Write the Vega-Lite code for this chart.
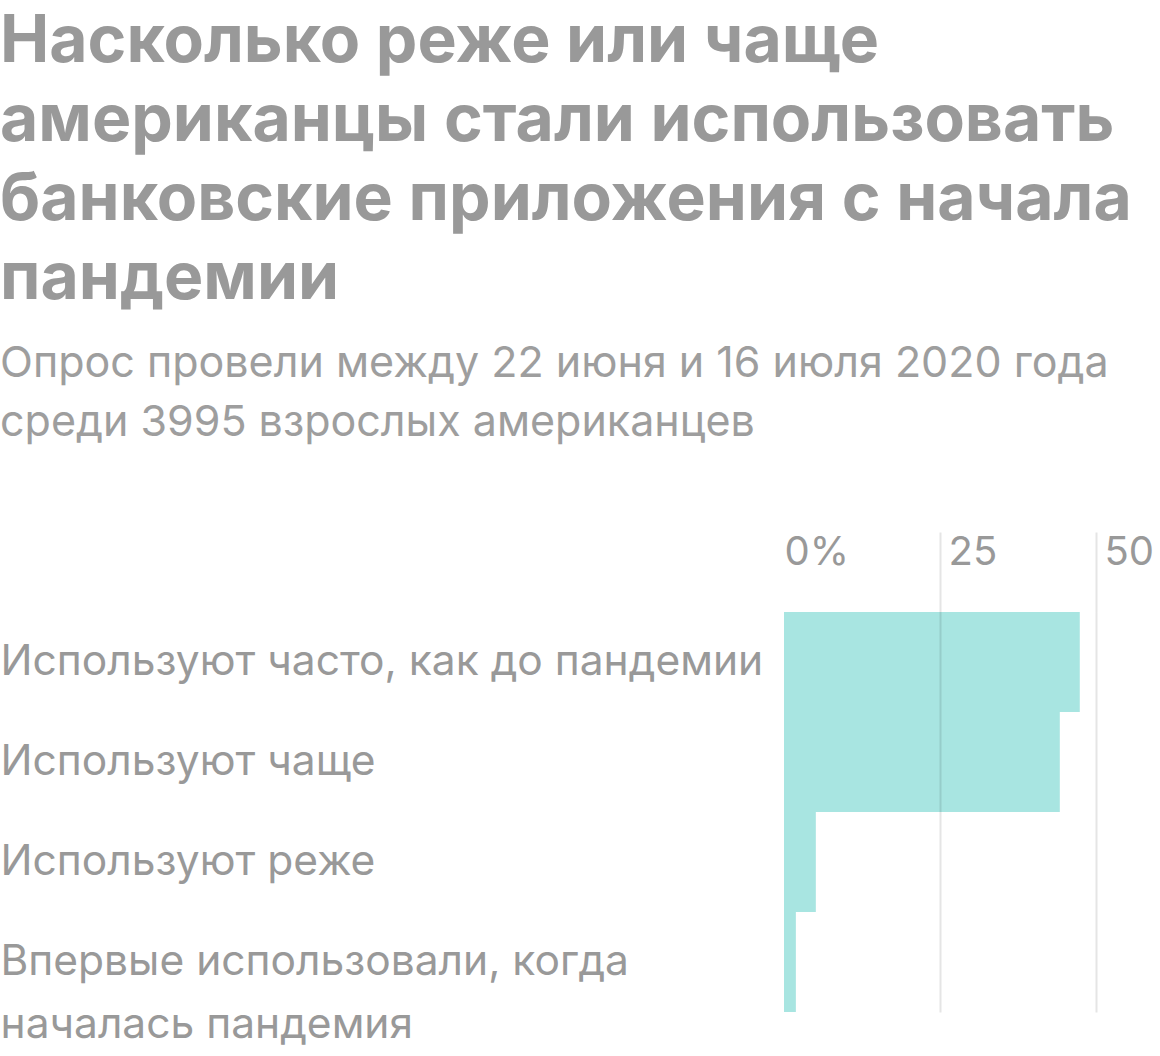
{
  "$schema": "https://vega.github.io/schema/vega-lite/v6.json",
  "description": "Как американцы стали использовать банковские приложения с начала пандемии",
  "width": 312,
  "height": 400,
  "padding": {"top": 9, "left": 0, "right": 0, "bottom": 0},
  "background": "white",
  "config": {"view": {"stroke": null}, "font": "Inter"},
  "title": {
    "text": ["Насколько реже или чаще", "американцы стали использовать", "банковские приложения с начала", "пандемии"],
    "subtitle": ["Опрос провели между 22 июня и 16 июля 2020 года", "среди 3995 взрослых американцев"],
    "anchor": "start",
    "frame": "bounds",
    "font": "Inter",
    "fontSize": 66,
    "fontWeight": "bold",
    "lineHeight": 79,
    "color": "#999999",
    "subtitleFont": "Inter",
    "subtitleFontSize": 43,
    "subtitleLineHeight": 59,
    "subtitleColor": "#9e9e9e",
    "subtitlePadding": 30,
    "offset": 85
  },
  "data": {
    "values": [
      {"answer": "Используют часто, как до пандемии", "share": 47.4},
      {"answer": "Используют чаще", "share": 44.2},
      {"answer": "Используют реже", "share": 5.1},
      {"answer": "Впервые использовали, когда|началась пандемия", "share": 1.9}
    ]
  },
  "mark": {"type": "bar", "color": "#a8e5e1"},
  "encoding": {
    "y": {
      "field": "answer",
      "type": "nominal",
      "sort": null,
      "scale": {"paddingInner": 0, "paddingOuter": 0},
      "axis": {
        "title": null,
        "orient": "left",
        "ticks": false,
        "domain": false,
        "grid": false,
        "labelAlign": "left",
        "labelBaseline": "middle",
        "labelPadding": 784,
        "labelLimit": 900,
        "labelFont": "Inter",
        "labelFontSize": 42.5,
        "labelLineHeight": 63,
        "labelColor": "#999999",
        "labelExpr": "split(datum.label, '|')"
      }
    },
    "x": {
      "field": "share",
      "type": "quantitative",
      "scale": {"domain": [0, 50], "nice": false},
      "axis": {
        "title": null,
        "orient": "top",
        "values": [0, 25, 50],
        "domain": false,
        "zindex": 1,
        "grid": true,
        "gridColor": "#000000",
        "gridWidth": 2,
        "gridOpacity": {"condition": {"test": "datum.value == 0", "value": 0}, "value": 0.1},
        "tickColor": "#000000",
        "tickWidth": 2,
        "tickSize": 80,
        "tickOpacity": {"condition": {"test": "datum.value == 0", "value": 0}, "value": 0.1},
        "labelAlign": "left",
        "labelBaseline": "middle",
        "labelPadding": -20,
        "labelOffset": {"condition": {"test": "datum.value == 0", "value": 0}, "value": 8},
        "labelFont": "Inter",
        "labelFontSize": 40,
        "labelColor": "#999999",
        "labelExpr": "datum.value == 0 ? '0%' : datum.label"
      }
    }
  }
}
